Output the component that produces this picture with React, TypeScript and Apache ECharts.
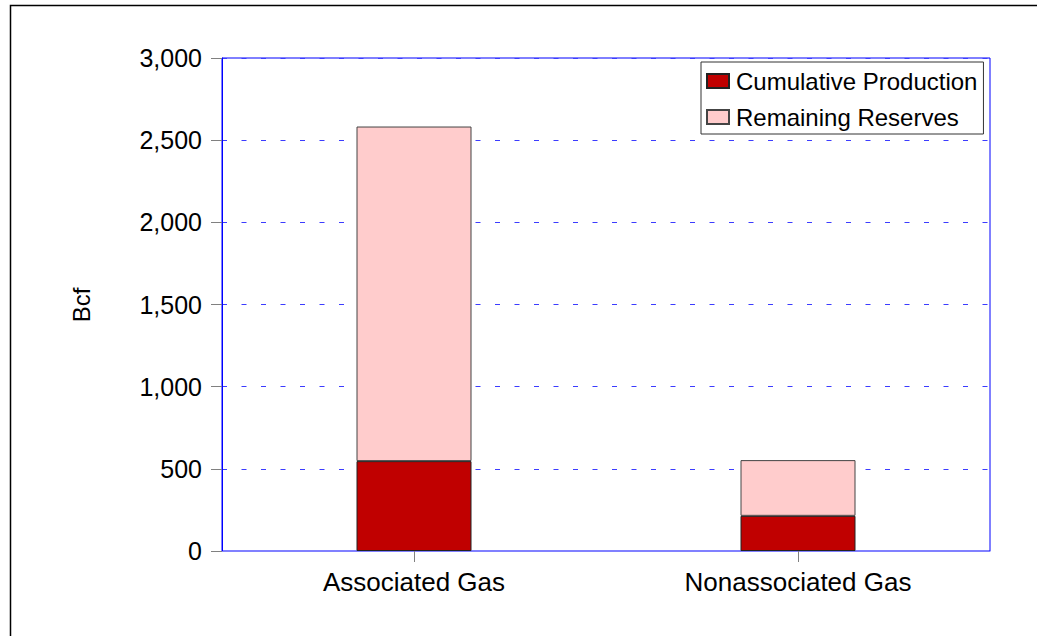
import React, { useEffect, useRef } from "react";
import * as echarts from "echarts";

const categories: string[] = ["Associated Gas", "Nonassociated Gas"];
const cumulativeProduction: number[] = [547, 214];
const remainingReserves: number[] = [2036, 339];
const seriesNames: string[] = ["Cumulative Production", "Remaining Reserves"];
const yTicks = { min: 0, max: 3000, interval: 500 };
const yAxisTitle = "Bcf";

const FONT = "'Liberation Sans', Arial, sans-serif";

export default function App() {
  const ref = useRef<HTMLDivElement>(null);
  useEffect(() => {
    if (!ref.current) return;
    const chart = echarts.init(ref.current, undefined, { renderer: "svg" });
    chart.setOption({
      animation: false,
      backgroundColor: "#ffffff",
      textStyle: { fontFamily: FONT },
      grid: {
        left: 222,
        top: 58,
        width: 768,
        height: 493,
        show: true,
        borderColor: "#0000ff",
        borderWidth: 1,
        backgroundColor: "transparent",
      },
      legend: {
        orient: "vertical",
        left: 701,
        top: 62,
        padding: [7, 6, 5, 5],
        itemGap: 12,
        itemWidth: 22,
        itemHeight: 14,
        backgroundColor: "#ffffff",
        borderColor: "#333333",
        borderWidth: 1,
        borderRadius: 0,
        icon: "rect",
        textStyle: { fontSize: 24, color: "#000", fontFamily: FONT, padding: [0, 0, 0, 2] },
        data: seriesNames,
      },
      xAxis: {
        type: "category",
        data: categories,
        axisLine: { show: true, lineStyle: { color: "#8080ff", width: 1 } },
        axisTick: { show: true, alignWithLabel: true, length: 11, lineStyle: { color: "#808080" } },
        axisLabel: { fontSize: 26, color: "#000", margin: 18, fontFamily: FONT },
        splitLine: { show: false },
      },
      yAxis: {
        type: "value",
        min: yTicks.min,
        max: yTicks.max,
        interval: yTicks.interval,
        axisLine: { show: true, lineStyle: { color: "#0000ff", width: 1 } },
        axisTick: { show: true, length: 11, lineStyle: { color: "#808080" } },
        axisLabel: {
          fontSize: 25,
          color: "#000",
          margin: 20,
          fontFamily: FONT,
          formatter: (v: number) => v.toLocaleString("en-US"),
        },
        splitLine: {
          show: true,
          lineStyle: { color: "#3c3cff", width: 1.2, type: [5, 14.5] },
        },
      },
      series: [
        {
          name: seriesNames[0],
          type: "bar",
          stack: "total",
          barWidth: 115,
          data: cumulativeProduction,
          itemStyle: { color: "#c00000", borderColor: "#222222", borderWidth: 1 },
        },
        {
          name: seriesNames[1],
          type: "bar",
          stack: "total",
          barWidth: 115,
          data: remainingReserves,
          itemStyle: { color: "#ffcccc", borderColor: "#444444", borderWidth: 1 },
        },
      ],
      graphic: [
        {
          type: "rect",
          shape: { x: 10.5, y: 5.5, width: 1100, height: 700 },
          style: { fill: "none", stroke: "#000", lineWidth: 1.5 },
          silent: true,
        },
        {
          type: "text",
          x: 81,
          y: 305,
          rotation: Math.PI / 2,
          style: {
            text: yAxisTitle,
            fontSize: 24,
            fontFamily: FONT,
            fill: "#000",
            align: "center",
            verticalAlign: "middle",
          },
        },
      ],
    });
    return () => chart.dispose();
  }, []);
  return (
    <div
      ref={ref}
      style={{ position: "absolute", left: 0, top: 0, width: 1037, height: 636 }}
    />
  );
}
